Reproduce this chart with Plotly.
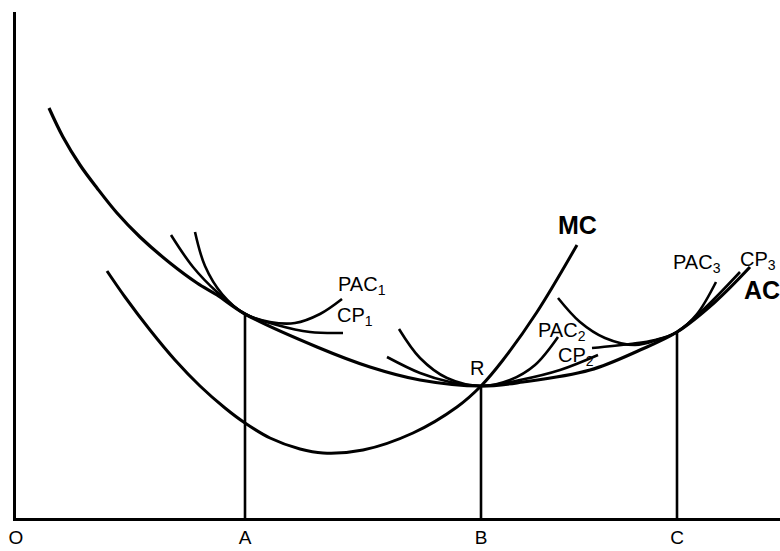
import plotly.graph_objects as go

# ---- data (x: output, y: cost) ----
ac_x = [3.3, 4.7, 6.4, 8.1, 10.1, 12.4, 15.4, 18.1, 20.1, 22.9, 30.1, 35.4, 40.4, 46.5, 50.7, 57.4, 62.4, 66.1, 69.9, 73.4]
ac_y = [41.0, 38.1, 35.3, 33.0, 30.5, 28.1, 25.5, 23.5, 22.3, 20.4, 17.1, 15.1, 13.8, 13.2, 13.6, 14.8, 16.8, 18.6, 21.6, 25.1]

mc_x = [9.1, 10.9, 13.4, 15.9, 18.4, 20.9, 22.9, 25.4, 28.4, 30.7, 34.7, 39.7, 44.1, 46.5, 48.7, 52.1, 56.1]
mc_y = [24.7, 22.1, 18.8, 15.8, 13.2, 11.0, 9.5, 8.0, 6.9, 6.5, 6.8, 8.5, 11.1, 13.2, 15.8, 20.6, 27.3]

pac1_x = [17.9, 18.9, 20.6, 22.9, 25.4, 27.9, 30.4, 32.6]
pac1_y = [28.6, 25.2, 22.4, 20.4, 19.6, 19.5, 20.4, 21.9]

cp1_x = [15.5, 17.7, 20.1, 22.9, 26.1, 29.4, 32.7]
cp1_y = [28.3, 25.1, 22.6, 20.4, 19.3, 18.6, 18.5]

pac2_x = [38.3, 40.4, 43.1, 46.5, 49.4, 51.9, 54.2]
pac2_y = [18.9, 16.0, 14.0, 13.2, 13.8, 15.3, 18.1]

cp2_x = [37.1, 40.4, 43.4, 46.5, 50.4, 54.4, 58.2]
cp2_y = [16.1, 14.5, 13.6, 13.2, 13.8, 14.8, 16.3]

pac3_x = [54.2, 56.4, 58.9, 61.9, 64.4, 66.1, 68.1, 70.0]
pac3_y = [22.0, 19.6, 18.0, 17.3, 17.9, 18.6, 20.4, 23.6]

cp3_x = [57.6, 61.4, 63.9, 66.1, 68.9, 72.4]
cp3_y = [17.0, 17.4, 17.8, 18.6, 21.0, 24.6]

# plant sizes (vertical lines): output and AC at the tangency points
plant_x = [22.9, 46.5, 66.1]
plant_y = [20.4, 13.2, 18.6]
tick_vals = [0, 22.9, 46.5, 66.1]
tick_text = ["O", "A", "B", "C"]

fig = go.Figure()

def curve(x, y, w=2.6):
    fig.add_trace(go.Scatter(x=x, y=y, mode="lines",
                             line=dict(color="black", width=w, shape="spline", smoothing=1.0),
                             hoverinfo="skip", showlegend=False))

curve(ac_x, ac_y, 3.2)
curve(mc_x, mc_y, 3.0)
curve(pac1_x, pac1_y)
curve(cp1_x, cp1_y)
curve(pac2_x, pac2_y)
curve(cp2_x, cp2_y)
curve(pac3_x, pac3_y)
curve(cp3_x, cp3_y)

for px, py in zip(plant_x, plant_y):
    fig.add_trace(go.Scatter(x=[px, px], y=[0, py], mode="lines",
                             line=dict(color="black", width=2.6),
                             hoverinfo="skip", showlegend=False))

lab_font = dict(family="Liberation Sans, Arial, sans-serif", size=20, color="black")
bold_font = dict(family="Liberation Sans Narrow, Liberation Sans, Arial, sans-serif", size=25,
                 color="black", weight="bold")

labels = [
    ("PAC<sub>1</sub>", 34.6, 23.3, lab_font),
    ("CP<sub>1</sub>", 33.9, 20.2, lab_font),
    ("PAC<sub>2</sub>", 54.6, 18.7, lab_font),
    ("CP<sub>2</sub>", 56.0, 16.2, lab_font),
    ("PAC<sub>3</sub>", 68.1, 25.5, lab_font),
    ("CP<sub>3</sub>", 74.2, 25.8, lab_font),
    ("R", 46.1, 15.0, lab_font),
    ("MC", 56.1, 29.3, bold_font),
    ("AC", 74.6, 22.8, bold_font),
]
for t, x, y, f in labels:
    fig.add_annotation(x=x, y=y, text=t, showarrow=False, font=f,
                       xanchor="center", yanchor="middle")

fig.update_layout(
    width=780, height=551,
    margin=dict(l=16, r=0, t=12, b=33),
    paper_bgcolor="white", plot_bgcolor="white",
    showlegend=False,
)
fig.update_xaxes(range=[0, 76.4], showgrid=False, zeroline=False,
                 showline=True, linecolor="black", linewidth=3,
                 tickvals=tick_vals, ticktext=tick_text, ticks="",
                 tickfont=dict(family="Liberation Sans, Arial, sans-serif", size=19, color="black"),
                 ticklabelstandoff=0)
fig.update_yaxes(range=[0, 50.6], showgrid=False, zeroline=False,
                 showline=True, linecolor="black", linewidth=3,
                 showticklabels=False, ticks="")

fig.write_html("out.html", config={"displayModeBar": False},
               post_script="document.body.style.margin='0';document.body.style.overflow='hidden';")
